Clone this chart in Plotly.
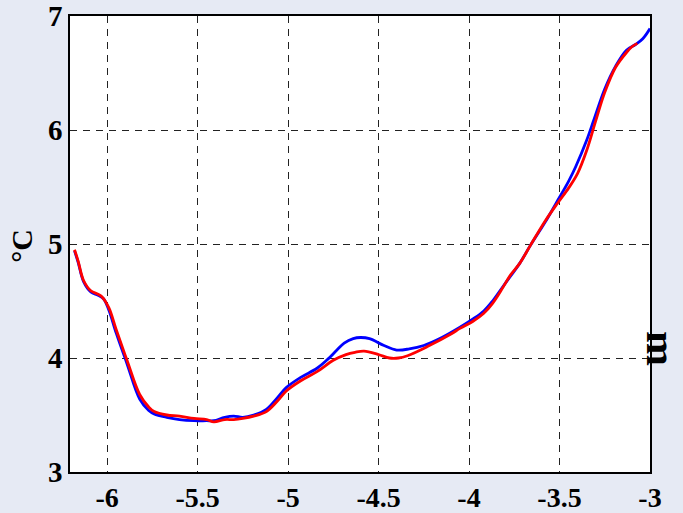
import plotly.graph_objects as go

red_x = [-6.18, -6.16, -6.13, -6.09, -6.05, -6.03, -5.99, -5.95, -5.89, -5.82, -5.77, -5.74,
         -5.67, -5.60, -5.52, -5.45, -5.41, -5.35, -5.30, -5.25, -5.19, -5.12, -5.06, -5.01,
         -4.93, -4.84, -4.75, -4.68, -4.63, -4.58, -4.50, -4.44, -4.39, -4.34, -4.23, -4.10,
         -4.05, -3.98, -3.92, -3.87, -3.82, -3.77, -3.72, -3.66, -3.58, -3.51, -3.45, -3.40,
         -3.35, -3.30, -3.25, -3.19, -3.13, -3.10, -3.07]
red_y = [4.95, 4.85, 4.68, 4.59, 4.56, 4.54, 4.44, 4.25, 3.98, 3.68, 3.57, 3.53,
         3.50, 3.49, 3.47, 3.46, 3.44, 3.46, 3.46, 3.47, 3.49, 3.53, 3.62, 3.71,
         3.80, 3.88, 3.98, 4.03, 4.05, 4.06, 4.03, 4.00, 4.00, 4.02, 4.10, 4.21,
         4.26, 4.32, 4.39, 4.48, 4.60, 4.73, 4.83, 4.99, 5.20, 5.36, 5.49, 5.62,
         5.82, 6.08, 6.33, 6.55, 6.68, 6.73, 6.76]

blue_x = [-6.18, -6.16, -6.13, -6.09, -6.05, -6.02, -5.99, -5.95, -5.89, -5.82, -5.77, -5.74,
          -5.67, -5.60, -5.52, -5.45, -5.41, -5.35, -5.30, -5.25, -5.19, -5.12, -5.06, -5.01,
          -4.93, -4.84, -4.78, -4.73, -4.69, -4.64, -4.60, -4.55, -4.47, -4.40, -4.33, -4.25,
          -4.15, -4.05, -3.98, -3.92, -3.87, -3.82, -3.77, -3.72, -3.66, -3.58, -3.50, -3.45,
          -3.41, -3.35, -3.31, -3.25, -3.19, -3.13, -3.08, -3.04, -3.00]
blue_y = [4.94, 4.84, 4.67, 4.58, 4.55, 4.52, 4.42, 4.22, 3.95, 3.64, 3.54, 3.51,
          3.48, 3.46, 3.45, 3.45, 3.45, 3.48, 3.49, 3.48, 3.50, 3.55, 3.65, 3.74,
          3.83, 3.91, 3.99, 4.07, 4.13, 4.17, 4.18, 4.17, 4.11, 4.07, 4.08, 4.11,
          4.18, 4.27, 4.34, 4.41, 4.50, 4.61, 4.72, 4.83, 4.99, 5.19, 5.41, 5.55,
          5.68, 5.91, 6.09, 6.36, 6.56, 6.70, 6.75, 6.80, 6.89]

x_ticks = [-6, -5.5, -5, -4.5, -4, -3.5, -3]
x_tick_labels = ["-6", "-5.5", "-5", "-4.5", "-4", "-3.5", "-3"]
y_ticks = [3, 4, 5, 6, 7]
y_tick_labels = ["3", "4", "5", "6", "7"]

font_family = "Liberation Serif"

fig = go.Figure()
fig.add_trace(go.Scatter(x=blue_x, y=blue_y, mode="lines",
                         line=dict(color="#0000FF", width=2.8), line_shape="spline",
                         showlegend=False))
fig.add_trace(go.Scatter(x=red_x, y=red_y, mode="lines",
                         line=dict(color="#FF0000", width=2.8), line_shape="spline",
                         showlegend=False))

axis_common = dict(
    showline=True, linecolor="black", linewidth=1.5, mirror=True,
    showgrid=True, gridcolor="#222222", gridwidth=1, griddash="7px,6px",
    zeroline=False, ticks="", ticklen=0, automargin=False,
)

fig.update_xaxes(range=[-6.205, -3], tickvals=x_ticks,
                 ticktext=["<b>%s</b>" % t for t in x_tick_labels],
                 tickfont=dict(family=font_family, size=28, color="black"),
                 ticklabelstandoff=0, **axis_common)
fig.update_yaxes(range=[3, 7], tickvals=y_ticks,
                 ticktext=["<b>%s</b>" % t for t in y_tick_labels],
                 tickfont=dict(family=font_family, size=29, color="black"),
                 ticklabelstandoff=0, **axis_common)

fig.update_layout(
    width=683, height=513,
    margin=dict(l=70, r=33, t=16, b=41, autoexpand=False),
    paper_bgcolor="#E6EAF4",
    plot_bgcolor="white",
    annotations=[
        dict(text="<b>°C</b>", xref="paper", yref="paper", x=-0.083, y=0.496,
             xanchor="center", yanchor="middle",
             showarrow=False, textangle=-90,
             font=dict(family=font_family, size=30, color="black")),
        dict(text="<b>m</b>", xref="paper", yref="paper", x=1.019, y=0.272,
             xanchor="center", yanchor="middle",
             showarrow=False, textangle=90,
             font=dict(family=font_family, size=42, color="black")),
    ],
)

fig.write_html(
    "out.html",
    config={"displayModeBar": False},
    post_script="document.body.style.margin='0';document.body.style.overflow='hidden';",
)
